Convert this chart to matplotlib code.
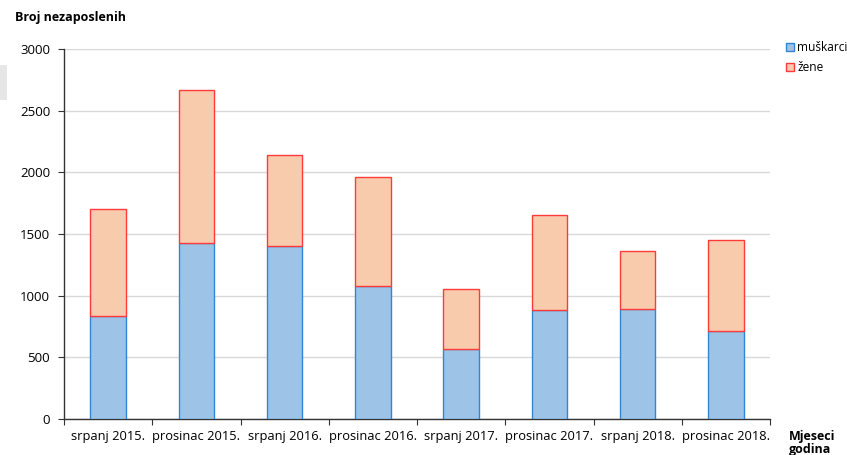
import matplotlib.pyplot as plt
import matplotlib.patches as mpatches
import numpy as np

# ── Data ────────────────────────────────────────────────────────────────────
periods = [
    "srpanj 2015.", "prosinac 2015.", "srpanj 2016.", "prosinac 2016.",
    "srpanj 2017.", "prosinac 2017.", "srpanj 2018.", "prosinac 2018.",
]
muskarci = [835, 1427, 1403, 1078, 568, 884, 892, 713]
zene = [868, 1243, 737, 884, 486, 770, 470, 738]

BLUE_FILL = "#9dc3e6"
BLUE_EDGE = "#2f86d4"
RED_FILL = "#f8cbad"
RED_EDGE = "#ff3a3a"

plt.rcParams["font.family"] = ["Open Sans", "DejaVu Sans"]

fig = plt.figure(figsize=(8.47, 4.55), dpi=100)
ax = fig.add_axes([64 / 847, 1 - 419 / 455, 706 / 847, 370 / 455])

x = np.arange(len(periods))
ax.bar(x, muskarci, width=0.4, color=BLUE_FILL, edgecolor=BLUE_EDGE,
       linewidth=1.0, label="muškarci", zorder=3)
ax.bar(x, zene, width=0.4, bottom=muskarci, color=RED_FILL, edgecolor=RED_EDGE,
       linewidth=1.0, label="žene", zorder=3)

ax.set_xlim(-0.5, len(periods) - 0.5)
ax.set_ylim(0, 3000)
ax.set_yticks(range(0, 3001, 500))
ax.yaxis.grid(True, color="#d9d9d9", linewidth=1.0, zorder=0)
ax.tick_params(axis="y", labelsize=9.5, length=4, color="#333333", pad=6)

# category labels centred, tick marks between categories
ax.set_xticks(np.arange(-0.5, len(periods)), minor=False)
ax.set_xticklabels([])
ax.set_xticks(x, minor=True)
ax.set_xticklabels(periods, minor=True, fontsize=9.3)
ax.tick_params(axis="x", which="major", length=4, color="#333333")
ax.tick_params(axis="x", which="minor", length=0, pad=8)

for side in ("top", "right"):
    ax.spines[side].set_visible(False)
for side in ("left", "bottom"):
    ax.spines[side].set_color("#333333")
    ax.spines[side].set_linewidth(1.0)

fig.text(15 / 847, 1 - 18 / 455, "Broj nezaposlenih", fontsize=9,
         fontweight="bold", va="center", ha="left")
fig.text(789 / 847, 1 - 443 / 455, "Mjeseci\ngodina", fontsize=9,
         fontweight="bold", va="center", ha="left", linespacing=1.0)

handles = [
    mpatches.Patch(facecolor=BLUE_FILL, edgecolor=BLUE_EDGE, label="muškarci"),
    mpatches.Patch(facecolor=RED_FILL, edgecolor=RED_EDGE, label="žene"),
]
fig.legend(handles=handles, loc="upper left", bbox_to_anchor=(780 / 847, 1 - 35 / 455),
           frameon=False, fontsize=8.6, handlelength=0.7, handleheight=0.7,
           handletextpad=0.25, labelspacing=0.6, borderpad=0)

# light grey patch at left edge
fig.patches.append(mpatches.Rectangle((0, 1 - 100 / 455), 7 / 847, 35 / 455,
                                      transform=fig.transFigure,
                                      facecolor="#e6e6e6", edgecolor="none"))

fig.savefig("out.png", dpi=100)
